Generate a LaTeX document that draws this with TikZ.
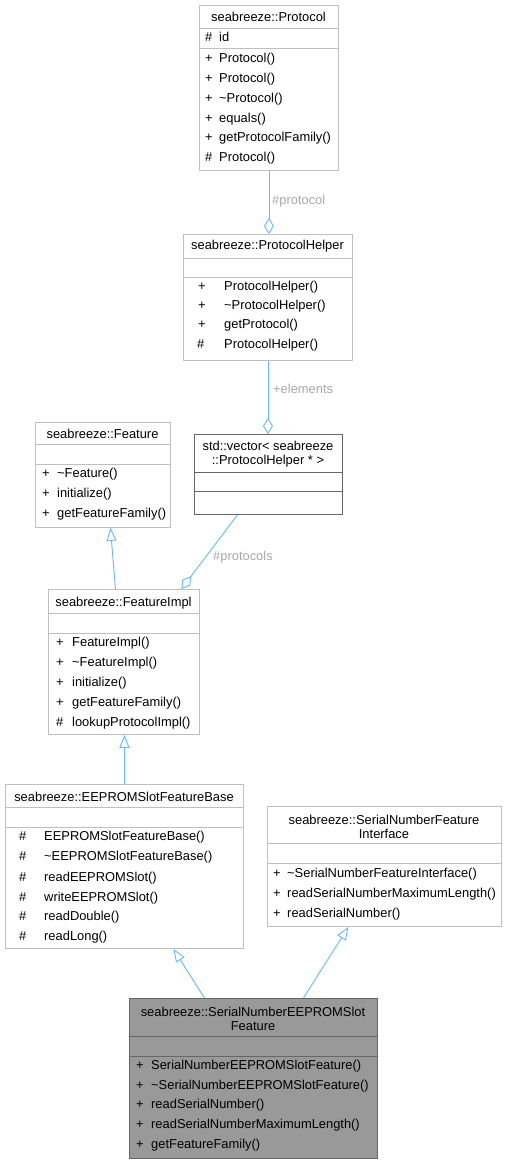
\documentclass[tikz,border=0pt]{standalone}
\usepackage{fontspec}
\setmainfont{Liberation Sans}
\usetikzlibrary{arrows.meta,calc}
\definecolor{boxline}{HTML}{BFBFBF}
\definecolor{darkline}{HTML}{666666}
\definecolor{edgeblue}{HTML}{63B8FF}
\definecolor{lblgray}{HTML}{A8A8A8}
\definecolor{hifill}{HTML}{999999}
\tikzset{
  cbox/.style={draw=boxline, line width=0.9pt, fill=white, inner sep=0pt, anchor=north west},
  dbox/.style={cbox, draw=darkline},
  hbox/.style={cbox, draw=darkline, fill=hifill},
  sepl/.style={draw=boxline, line width=0.9pt},
  dsepl/.style={draw=darkline, line width=0.9pt},
  txt/.style={font=\fontsize{12.9}{14.5}\selectfont, inner sep=0pt, text=black},
  ttl/.style={txt, align=center, yshift=-0.8pt},
  mem/.style={txt, anchor=west, text height=9.5pt, text depth=3pt, yshift=-1pt},
  lbl/.style={font=\fontsize{12.9}{14.5}\selectfont, inner sep=0pt, text=lblgray, anchor=west},
  inh/.style={draw=edgeblue, line width=0.9pt, -{Triangle[open, length=13pt, width=10pt]}},
  agg/.style={draw=edgeblue, line width=0.9pt, -{Diamond[open, length=16pt, width=10pt]}}
}
\newcommand{\mrow}[6]{\node[mem] (#1s) at (#2,#4) {#5}; \node[mem] (#1) at (#3,#4) {#6};}
\begin{document}
\begin{tikzpicture}[x=1pt,y=-1pt]
\useasboundingbox (0,0) rectangle (507,1164);
% Protocol
\node[cbox, minimum width=139pt, minimum height=165pt] (protocol) at (199,5) {};
\draw[sepl] (199,28) -- (338,28);
\draw[sepl] (199,48) -- (338,48);
\node[ttl] (protocolT) at (268.5,16.5) {seabreeze::Protocol};
\mrow{p0}{205}{219}{37}{\#}{id}
\mrow{p1}{205}{219}{58}{+}{Protocol()}
\mrow{p2}{205}{219}{78}{+}{Protocol()}
\mrow{p3}{205}{219}{98}{+}{\textasciitilde Protocol()}
\mrow{p4}{205}{219}{118}{+}{equals()}
\mrow{p5}{205}{219}{137.5}{+}{getProtocolFamily()}
\mrow{p6}{205}{219}{157}{\#}{Protocol()}
% ProtocolHelper
\node[cbox, minimum width=169pt, minimum height=126pt] (helper) at (183,234) {};
\draw[sepl] (183,258) -- (352,258);
\draw[sepl] (183,277) -- (352,277);
\node[ttl] (helperT) at (267.5,245.5) {seabreeze::ProtocolHelper};
\mrow{h1}{198}{224}{286}{+}{ProtocolHelper()}
\mrow{h2}{198}{224}{305}{+}{\textasciitilde ProtocolHelper()}
\mrow{h3}{198}{224}{324.5}{+}{getProtocol()}
\mrow{h4}{197}{224}{344}{\#}{ProtocolHelper()}
% Feature
\node[cbox, minimum width=135pt, minimum height=105pt] (feature) at (35,422) {};
\draw[sepl] (35,444) -- (170,444);
\draw[sepl] (35,464) -- (170,464);
\node[ttl] (featureT) at (102.5,433.5) {seabreeze::Feature};
\mrow{f1}{42}{57}{473.5}{+}{\textasciitilde Feature()}
\mrow{f2}{42}{57}{493.5}{+}{initialize()}
\mrow{f3}{42}{57}{513}{+}{getFeatureFamily()}
% vector
\node[dbox, minimum width=148pt, minimum height=80pt] (vector) at (194,434) {};
\draw[dsepl] (194,472) -- (342,472);
\draw[dsepl] (194,491) -- (342,491);
\node[ttl] (vectorT) at (268,453.5) {std::vector< seabreeze\\::ProtocolHelper * >};
% FeatureImpl
\node[cbox, minimum width=151pt, minimum height=145pt] (featureimpl) at (48,589) {};
\draw[sepl] (48,613) -- (199,613);
\draw[sepl] (48,633) -- (199,633);
\node[ttl] (featureimplT) at (123.5,602) {seabreeze::FeatureImpl};
\mrow{fi1}{56}{72}{642.5}{+}{FeatureImpl()}
\mrow{fi2}{56}{72}{662.5}{+}{\textasciitilde FeatureImpl()}
\mrow{fi3}{56}{72}{682.5}{+}{initialize()}
\mrow{fi4}{56}{72}{702.5}{+}{getFeatureFamily()}
\mrow{fi5}{56}{72}{722}{\#}{lookupProtocolImpl()}
% EEPROMSlotFeatureBase
\node[cbox, minimum width=238pt, minimum height=164pt] (eeprom) at (5,784) {};
\draw[sepl] (5,807) -- (243,807);
\draw[sepl] (5,827) -- (243,827);
\node[ttl] (eepromT) at (124,796) {seabreeze::EEPROMSlotFeatureBase};
\mrow{e1}{19}{44}{836.5}{\#}{EEPROMSlotFeatureBase()}
\mrow{e2}{19}{44}{856.5}{\#}{\textasciitilde EEPROMSlotFeatureBase()}
\mrow{e3}{19}{44}{877}{\#}{readEEPROMSlot()}
\mrow{e4}{19}{44}{897}{\#}{writeEEPROMSlot()}
\mrow{e5}{19}{44}{916.5}{\#}{readDouble()}
\mrow{e6}{19}{44}{936}{\#}{readLong()}
% SerialNumberFeatureInterface
\node[cbox, minimum width=234pt, minimum height=120pt] (iface) at (267,806) {};
\draw[sepl] (267,843) -- (501,843);
\draw[sepl] (267,863) -- (501,863);
\node[ttl] (ifaceT) at (384,826) {seabreeze::SerialNumberFeature\\Interface};
\mrow{i1}{273}{287}{873.5}{+}{\textasciitilde SerialNumberFeatureInterface()}
\mrow{i2}{273}{287}{893.5}{+}{readSerialNumberMaximumLength()}
\mrow{i3}{273}{287}{913}{+}{readSerialNumber()}
% SerialNumberEEPROMSlotFeature
\node[hbox, minimum width=248pt, minimum height=160pt] (serial) at (129,998) {};
\draw[dsepl] (129,1036) -- (377,1036);
\draw[dsepl] (129,1056) -- (377,1056);
\node[ttl] (serialT) at (253,1018) {seabreeze::SerialNumberEEPROMSlot\\Feature};
\mrow{s1}{136}{151}{1065.5}{+}{SerialNumberEEPROMSlotFeature()}
\mrow{s2}{136}{151}{1085}{+}{\textasciitilde SerialNumberEEPROMSlotFeature()}
\mrow{s3}{136}{151}{1104.5}{+}{readSerialNumber()}
\mrow{s4}{136}{151}{1124.5}{+}{readSerialNumberMaximumLength()}
\mrow{s5}{136}{151}{1144}{+}{getFeatureFamily()}
% connectors
\draw[agg] (protocol.south) -- (protocol.south |- helper.north);
\node[lbl] (lprotocol) at (272,201) {\#protocol};
\draw[agg] (helper.south) -- (helper.south |- vector.north);
\node[lbl] (lelements) at (273,389) {+elements};
\draw[agg] ([xshift=-31pt]vector.south) -- ([xshift=57.5pt]featureimpl.north);
\node[lbl] (lprotocols) at (213,557) {\#protocols};
\draw[inh] ([xshift=-8.5pt]featureimpl.north) -- ([xshift=7.5pt]feature.south);
\draw[inh] (eeprom.north) -- (eeprom.north |- featureimpl.south);
\draw[inh] ([xshift=-49pt]serial.north) -- ([xshift=49pt]eeprom.south);
\draw[inh] ([xshift=50pt]serial.north) -- ([xshift=-36pt]iface.south);
\end{tikzpicture}
\end{document}
